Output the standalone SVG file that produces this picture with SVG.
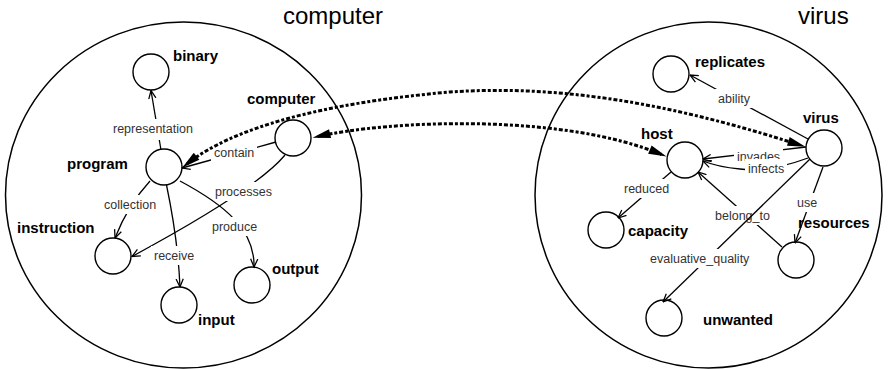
<svg xmlns="http://www.w3.org/2000/svg" width="891" height="369" viewBox="0 0 891 369">
  <style>
    .frame { fill: none; stroke: #000; stroke-width: 1.5; }
    .title { font-family: "Liberation Sans", Arial, sans-serif; font-size: 24px; fill: #000; }
    .node circle { fill: #fff; stroke: #000; stroke-width: 1.4; }
    .node text { font-family: "Liberation Sans", Arial, sans-serif; font-size: 15px; font-weight: bold; fill: #000; }
    .edge path { fill: none; stroke: #000; stroke-width: 1.3; marker-end: url(#open); }
    .edge rect { fill: #fff; }
    .edge text { font-family: "Liberation Sans", Arial, sans-serif; font-size: 12.5px; fill: #333; }
    .link { fill: none; stroke: #000; stroke-width: 3; stroke-dasharray: 4 2 3 2; marker-start: url(#tri); marker-end: url(#tri); }
  </style>
  <defs>
    <marker id="open" viewBox="0 0 10 10" refX="9.5" refY="5" markerWidth="9" markerHeight="9" markerUnits="userSpaceOnUse" orient="auto">
      <path d="M0.5,1 L9.5,5 L0.5,9" fill="none" stroke="#000" stroke-width="1.4"/>
    </marker>
    <marker id="tri" viewBox="0 0 20 10" refX="14" refY="5" markerWidth="20" markerHeight="9" markerUnits="userSpaceOnUse" orient="auto-start-reverse">
      <path d="M0,0 L20,5 L0,10 Z" fill="#000"/>
    </marker>
  </defs>

  <rect width="891" height="369" fill="#fff"/>

  <!-- domain frames -->
  <g id="domain-computer">
    <ellipse class="frame" cx="183.5" cy="195" rx="178" ry="173"/>
    <text class="title" x="283" y="24">computer</text>
  </g>
  <g id="domain-virus">
    <ellipse class="frame" cx="708.5" cy="195" rx="173.5" ry="173"/>
    <text class="title" x="798" y="24">virus</text>
  </g>

  <!-- concept nodes: computer domain -->
  <g id="n-binary" class="node"><circle cx="151" cy="72" r="18"/><text x="173" y="61">binary</text></g>
  <g id="n-computer" class="node"><circle cx="293" cy="138" r="18"/><text x="247" y="104">computer</text></g>
  <g id="n-program" class="node"><circle cx="164" cy="167" r="18"/><text x="67" y="169">program</text></g>
  <g id="n-instruction" class="node"><circle cx="113" cy="256" r="18"/><text x="17" y="233">instruction</text></g>
  <g id="n-input" class="node"><circle cx="179" cy="305" r="18"/><text x="198" y="325">input</text></g>
  <g id="n-output" class="node"><circle cx="252" cy="285" r="18"/><text x="272" y="274">output</text></g>

  <!-- concept nodes: virus domain -->
  <g id="n-replicates" class="node"><circle cx="671" cy="74" r="18"/><text x="695" y="67">replicates</text></g>
  <g id="n-virus" class="node"><circle cx="824" cy="148" r="18"/><text x="803" y="123">virus</text></g>
  <g id="n-host" class="node"><circle cx="685" cy="160" r="18"/><text x="641" y="139">host</text></g>
  <g id="n-capacity" class="node"><circle cx="606" cy="230" r="18"/><text x="628" y="236">capacity</text></g>
  <g id="n-resources" class="node"><circle cx="796" cy="260" r="18"/><text x="798" y="228">resources</text></g>
  <g id="n-unwanted" class="node"><circle cx="664" cy="318" r="18"/><text x="703" y="325">unwanted</text></g>

  <g id="connectors">
    <!-- computer domain relations -->
    <g class="edge">
      <path d="M161,150 L151,90.5"/>
      <rect x="110" y="119" width="87" height="21"/>
      <text x="113" y="133">representation</text>
    </g>
    <g class="edge">
      <path d="M276,142 L182,168"/>
      <rect x="211" y="143" width="46" height="19"/>
      <text x="214" y="157">contain</text>
    </g>
    <g class="edge">
      <path d="M285,155 Q257,189 132,256.5"/>
      <rect x="212" y="182" width="63" height="19"/>
      <text x="215" y="196">processes</text>
    </g>
    <g class="edge">
      <path d="M150,181 Q128,205 115,238"/>
      <rect x="101" y="195" width="58" height="19"/>
      <text x="104" y="209">collection</text>
    </g>
    <g class="edge">
      <path d="M166.5,185 Q178,240 180,287"/>
      <rect x="151" y="246" width="46" height="19"/>
      <text x="154" y="260">receive</text>
    </g>
    <g class="edge">
      <path d="M180,181 C225,205 255,230 254,267"/>
      <rect x="209" y="217" width="51" height="19"/>
      <text x="212" y="231">produce</text>
    </g>

    <!-- virus domain relations -->
    <g class="edge">
      <path d="M808,139 L690,75"/>
      <rect x="715" y="89" width="38" height="19"/>
      <text x="718" y="103">ability</text>
    </g>
    <g class="edge">
      <path d="M806,147 L703,159"/>
      <rect x="734" y="147" width="49" height="19"/>
      <text x="737" y="161">invades</text>
    </g>
    <g class="edge">
      <path d="M808,158 Q770,172 740,169 Q718,167 703,161"/>
      <rect x="745" y="159" width="42" height="19"/>
      <text x="748" y="173">infects</text>
    </g>
    <g class="edge">
      <path d="M671,172 L618,218"/>
      <rect x="621" y="179" width="51" height="19"/>
      <text x="624" y="193">reduced</text>
    </g>
    <g class="edge">
      <path d="M782,247 L698,172"/>
      <rect x="712" y="206" width="61" height="19"/>
      <text x="715" y="220">belong_to</text>
    </g>
    <g class="edge">
      <path d="M810,159 L663,302"/>
      <rect x="647" y="249" width="106" height="19"/>
      <text x="650" y="263">evaluative_quality</text>
    </g>
    <g class="edge">
      <path d="M823,167 L795,243"/>
      <rect x="794" y="193" width="26" height="19"/>
      <text x="797" y="207">use</text>
    </g>

    <!-- cross-domain mappings -->
    <path class="link" d="M186.7,164.2 C232,128 322,103 450,92 C580,83 700,113 800.3,145.2"/>
    <path class="link" d="M317.8,136.6 C384,121 560,112 661.5,154.5"/>
  </g>
</svg>
